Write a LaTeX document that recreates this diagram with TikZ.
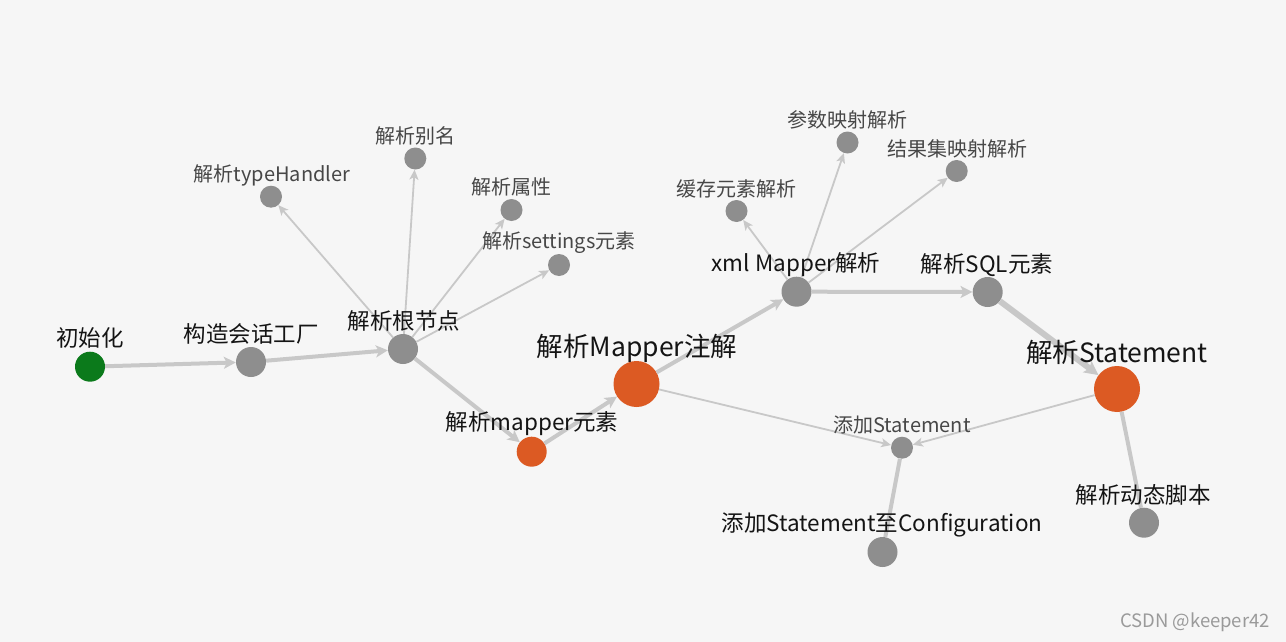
\documentclass[tikz,border=0pt]{standalone}
\usepackage{fontspec}
\setmainfont{Noto Sans CJK SC}
\usetikzlibrary{arrows.meta}
\definecolor{bg}{HTML}{F6F6F6}
\definecolor{ngray}{HTML}{8E8E8E}
\definecolor{norange}{HTML}{DC5A23}
\definecolor{ngreen}{HTML}{0B7A1B}
\definecolor{edgec}{HTML}{C8C8C8}
\definecolor{wm}{HTML}{9A9A9A}
\tikzset{
  dot/.style={circle, inner sep=0pt, draw=none},
  gd/.style={dot, fill=ngray, minimum size=30pt},
  gs/.style={dot, fill=ngray, minimum size=22pt},
  od/.style={dot, fill=norange, minimum size=30pt},
  ob/.style={dot, fill=norange, minimum size=46pt},
  grd/.style={dot, fill=ngreen, minimum size=30pt},
  thickarr/.style={draw=edgec, line width=4pt, -{Stealth[length=12pt,width=12pt,inset=3pt]}},
  thickerarr/.style={draw=edgec, line width=6pt, -{Stealth[length=14pt,width=14pt,inset=3pt]}},
  thinarr/.style={draw=edgec, line width=1.8pt, -{Stealth[length=10pt,width=9pt,inset=2.5pt]}},
  thickline/.style={draw=edgec, line width=4pt},
  lm/.style={inner sep=0pt, text=black!92, font=\fontsize{22.5}{24}\selectfont},
  ls/.style={inner sep=0pt, text=black!72, font=\fontsize{20}{22}\selectfont},
  lb/.style={inner sep=0pt, text=black!92, font=\fontsize{26.5}{28}\selectfont},
}
\begin{document}
\begin{tikzpicture}[x=1pt,y=-1pt]
\fill[bg] (0,0) rectangle (1286,642);
\useasboundingbox (0,0) rectangle (1286,642);
% nodes
\node[grd] (init) at (90,366.7) {};
\node[gd] (fac) at (251,362) {};
\node[gd] (root) at (403,349) {};
\node[gs] (th) at (271,196.7) {};
\node[gs] (alias) at (415.3,158.5) {};
\node[gs] (prop) at (511.5,210) {};
\node[gs] (sett) at (559,265) {};
\node[od] (mel) at (531.7,451.7) {};
\node[ob] (mann) at (636.5,384) {};
\node[gd] (xml) at (796.5,291.7) {};
\node[gs] (cache) at (736.5,211) {};
\node[gs] (param) at (847.5,142.5) {};
\node[gs] (res) at (956.7,171) {};
\node[gd] (sql) at (987.7,292) {};
\node[ob] (stmt) at (1117,389) {};
\node[gs] (addst) at (902,447.7) {};
\node[gd] (conf) at (882.5,552) {};
\node[gd] (dyn) at (1144,522.7) {};
% edges
\draw[thickarr] (init) -- (fac);
\draw[thickarr] (fac) -- (root);
\draw[thinarr] (root) -- (th);
\draw[thinarr] (root) -- (alias);
\draw[thinarr] (root) -- (prop);
\draw[thinarr] (root) -- (sett);
\draw[thickarr] (root) -- (mel);
\draw[thickarr] (mel) -- (mann);
\draw[thickarr] (mann) -- (xml);
\draw[thinarr] (xml) -- (cache);
\draw[thinarr] (xml) -- (param);
\draw[thinarr] (xml) -- (res);
\draw[thickarr] (xml) -- (sql);
\draw[thickerarr] (sql) -- (stmt);
\draw[thinarr] (mann) -- (addst);
\draw[thinarr] (stmt) -- (addst);
\draw[thickline] (stmt) -- (dyn);
\draw[thickline] (addst) -- (conf);
% labels
\node[lm] (linit) at (90,338) {初始化};
\node[lm] (lfac) at (251,334) {构造会话工厂};
\node[lm] (lroot) at (404,321) {解析根节点};
\node[ls] (lth) at (272,175) {解析typeHandler};
\node[ls] (lalias) at (415,136) {解析别名};
\node[ls] (lprop) at (511,187) {解析属性};
\node[ls] (lsett) at (559,243) {解析settings元素};
\node[lm] (lmel) at (532,424) {解析mapper元素};
\node[lb] (lmann) at (637,348) {解析Mapper注解};
\node[lm] (lxml) at (796,265) {xml Mapper解析};
\node[ls] (lcache) at (736,189) {缓存元素解析};
\node[ls] (lparam) at (847,120) {参数映射解析};
\node[ls] (lres) at (957,149) {结果集映射解析};
\node[lm] (lsql) at (987,265) {解析SQL元素};
\node[lb] (lstmt) at (1117,352) {解析Statement};
\node[ls] (laddst) at (902,425) {添加Statement};
\node[lm] (lconf) at (882,525) {添加Statement至Configuration};
\node[lm] (ldyn) at (1143,495) {解析动态脚本};
\node[inner sep=0pt, text=wm, font=\fontsize{18.5}{20}\selectfont] (wmk) at (1195,622) {CSDN @keeper42};
\end{tikzpicture}
\end{document}
